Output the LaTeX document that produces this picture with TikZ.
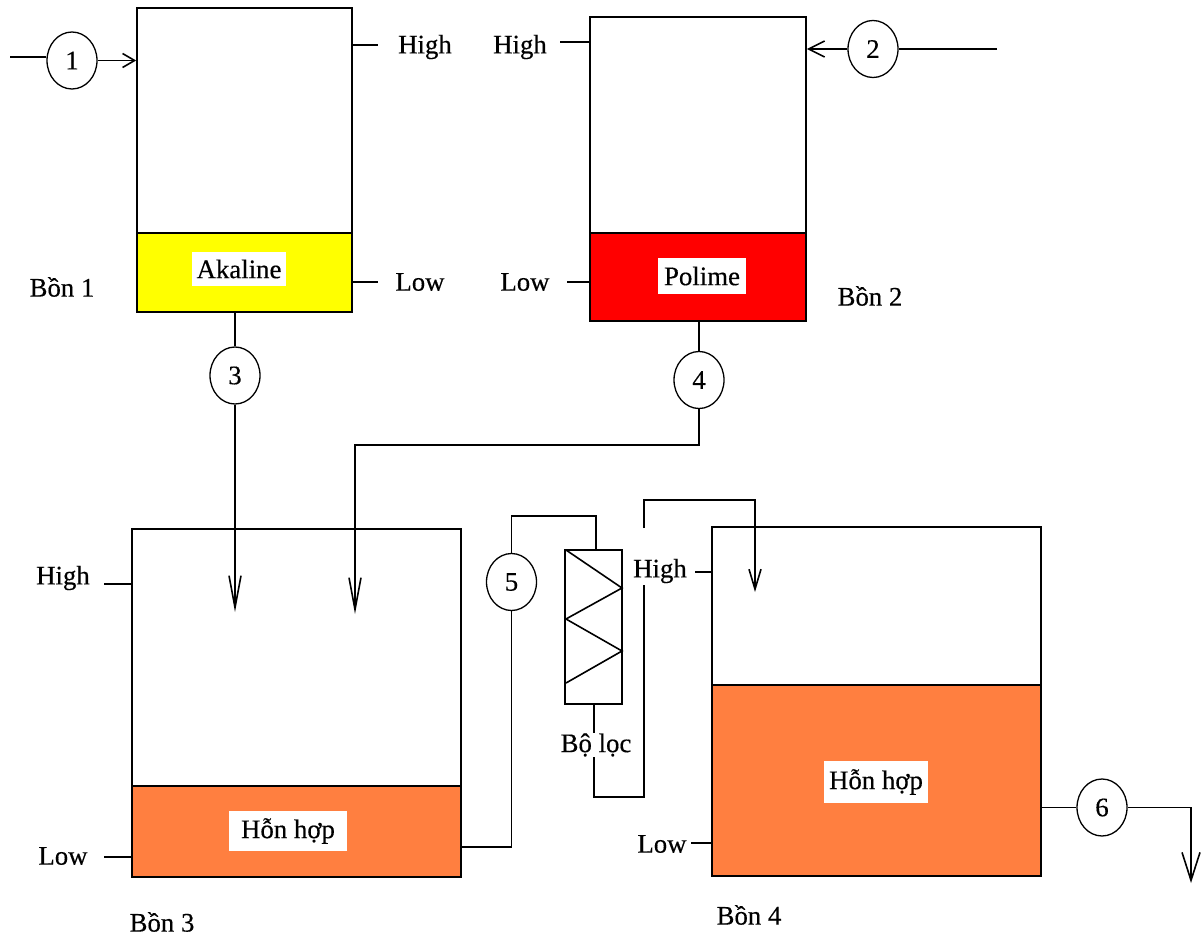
\documentclass[tikz,border=0pt]{standalone}
\usepackage{fontspec}
\setmainfont{Liberation Serif}
\newfontfamily\boldishfont{Liberation Serif}[FakeBold=0.35]
\usetikzlibrary{shapes,arrows.meta,positioning,calc}
\definecolor{mixorange}{HTML}{FF7F40}
\definecolor{alkyellow}{HTML}{FFFF00}
\tikzset{
    tank/.style={draw, line width=0.85pt, inner sep=0pt},
    txt/.style={font=\boldishfont\fontsize{13.4}{15}\selectfont, inner sep=0pt},
    tag/.style={txt, fill=white, inner sep=0pt},
    pump/.style={draw, ellipse, fill=white, line width=0.65pt, inner sep=0pt, minimum width=25pt, minimum height=28.5pt, font=\boldishfont\fontsize{13.4}{15}\selectfont},
    pipe/.style={line width=0.8pt}
}
\begin{document}
\begin{tikzpicture}[x=0.5pt, y=-0.5pt, pipe]
        \useasboundingbox (0,0) rectangle (1203,936);

        % Bon 1 (top left)
        \node[tank, minimum width=107.5pt, minimum height=152pt] (tank1) at (244.5,160) {};
        \node[tank, fill=alkyellow, minimum width=107.5pt, minimum height=39.5pt] (liq1) at (244.5,272.5) {};
        \node[tag, minimum width=47pt, minimum height=17pt] (name1) at (239,269) {Akaline};
        \node[txt] (bon1) at (62,287) {Bồn 1};
        \node[txt] (high1) at (425,47) {High};
        \node[txt] (low1) at (420,282) {Low};

        % Bon 2 (top right)
        \node[tank, minimum width=108pt, minimum height=152pt] (tank2) at (698,169) {};
        \node[tank, fill=red, minimum width=108pt, minimum height=44pt] (liq2) at (698,277) {};
        \node[tag, minimum width=44pt, minimum height=18pt] (name2) at (702,276) {Polime};
        \node[txt] (bon2) at (870,296) {Bồn 2};
        \node[txt] (high2) at (520,47) {High};
        \node[txt] (low2) at (525,282) {Low};

        % Bon 3 (bottom left)
        \node[tank, minimum width=164.5pt, minimum height=174pt] (tank3) at (296.5,703) {};
        \node[tank, fill=mixorange, minimum width=164.5pt, minimum height=45.5pt] (liq3) at (296.5,831.5) {};
        \node[tag, minimum width=59pt, minimum height=20pt] (name3) at (288,831) {Hỗn hợp};
        \node[txt] (bon3) at (162,922) {Bồn 3};
        \node[txt] (high3) at (63,578) {High};
        \node[txt] (low3) at (63,856) {Low};

        % Bon 4 (bottom right)
        \node[tank, minimum width=164.5pt, minimum height=174.5pt] (tank4) at (876.5,701.5) {};
        \node[tank, fill=mixorange, minimum width=164.5pt, minimum height=95.5pt] (liq4) at (876.5,780.5) {};
        \node[tag, minimum width=52pt, minimum height=21pt] (name4) at (876,782) {Hỗn hợp};
        \node[txt] (bon4) at (749,915) {Bồn 4};
        \node[txt] (low4) at (662,844) {Low};

        % Bo loc
        \node[tank, minimum width=28.5pt, minimum height=77pt] (filter) at (593.5,627) {};
        \draw (566,550) -- (622,588) -- (566,619) -- (622,651) -- (566,683);
        \node[txt] (filtername) at (596,745) {Bộ lọc};

        % Pumps
        \node[pump] (pump1) at (72,60.5) {1};
        \node[pump] (pump2) at (873,49) {2};
        \node[pump] (pump3) at (235,375.5) {3};
        \node[pump] (pump4) at (699,380) {4};
        \node[pump] (pump5) at (511.5,582) {5};
        \node[pump] (pump6) at (1102,807.5) {6};

        % Level ticks
        \coordinate (t1) at (378,45);
        \coordinate (t2) at (378,282);
        \coordinate (t3) at (560,42);
        \coordinate (t4) at (567,282);
        \coordinate (t5) at (104,584);
        \coordinate (t6) at (104,857);
        \coordinate (t7) at (695,572);
        \coordinate (t8) at (691,843);
        \draw (t1 -| tank1.east) -- (t1);
        \draw (t2 -| tank1.east) -- (t2);
        \draw (t3 -| tank2.west) -- (t3);
        \draw (t4 -| tank2.west) -- (t4);
        \draw (t5 -| tank3.west) -- (t5);
        \draw (t6 -| tank3.west) -- (t6);
        \draw (t7 -| tank4.west) -- (t7);
        \draw (t8 -| tank4.west) -- (t8);

        % Feed pipes
        \coordinate (in1) at (10,57);
        \coordinate (in2) at (997,49);
        \coordinate (out3) at (235,612);
        \coordinate (out4) at (355,614);
        \coordinate (out5) at (755,592);
        \coordinate (out6) at (1191,883);
        \draw (in1) -- (in1 -| pump1.west);
        \draw[-{Straight Barb[length=6pt, width=7pt]}] (pump1.east) -- (pump1.east -| tank1.west);
        \draw (in2) -- (pump2.east);
        \draw[-{Straight Barb[length=8pt, width=8pt]}] (pump2.west) -- (pump2.west -| tank2.east);
        \draw (pump3 |- liq1.south) -- (pump3.north);
        \draw[-{Straight Barb[length=16pt, width=6pt]}] (pump3.south) -- (out3);
        \draw (pump4 |- liq2.south) -- (pump4.north);
        \draw[-{Straight Barb[length=16pt, width=6pt]}] (pump4.south) |- (355,445) -- (out4);

        % Filter loop
        \coordinate (low5) at (511.5,847);
        \coordinate (top5) at (511.5,516);
        \coordinate (entry5) at (596,516);
        \coordinate (bend1) at (594,797);
        \coordinate (bend2) at (644,797);
        \coordinate (top6) at (644,500);
        \coordinate (gap1) at (644,585);
        \coordinate (gap2) at (644,528);
        \draw (low5 -| liq3.east) -- (low5) -- (pump5.south);
        \draw (pump5.north) -- (top5) -- (entry5) -- (entry5 |- filter.north);
        \draw (bend1 |- filter.south) -- (bend1 |- filtername.north);
        \draw (bend1 |- filtername.south) -- (bend1) -- (bend2) -- (gap1);
        \draw[-{Straight Barb[length=10pt, width=6pt]}] (gap2) -- (top6) -| (out5);
        \node[txt] (high4) at (660,571) {High};

        % Outlet
        \draw (tank4.east |- pump6.west) -- (pump6.west);
        \draw[-{Straight Barb[length=14pt, width=9pt]}] (pump6.east) -| (out6);
    \end{tikzpicture}
\end{document}
